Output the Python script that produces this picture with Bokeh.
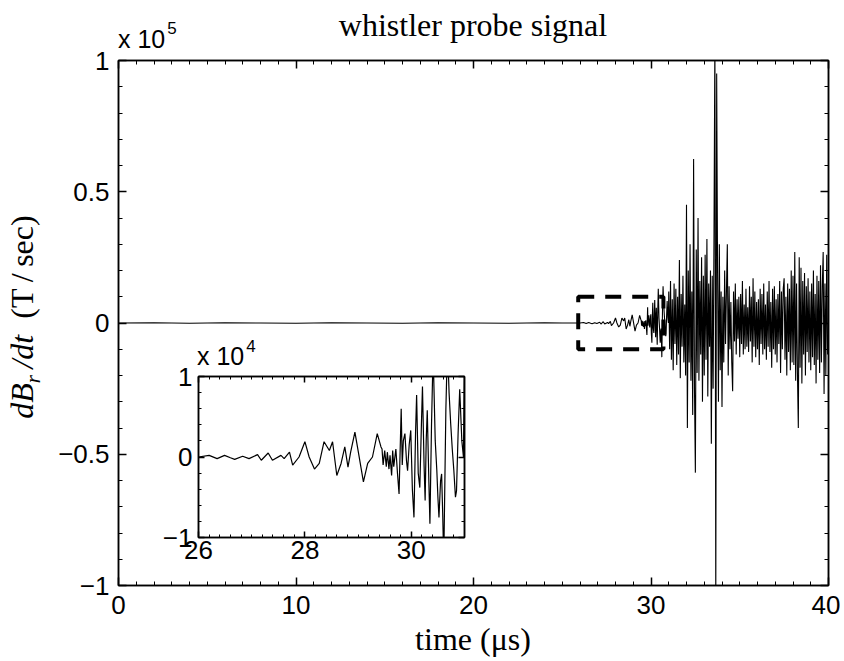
import numpy as np
from bokeh.plotting import figure
from bokeh.models import LinearAxis, FixedTicker, CustomJSTickFormatter, Div
from bokeh.embed import file_html
from bokeh.resources import INLINE

TITLE = "whistler probe signal"
X_LABEL = "time (μs)"
Y_LABEL_HTML = ("<i>dB<sub style='font-size:21px'>r</sub>&thinsp;/dt</i>"
                "&ensp;(T&thinsp;/&thinsp;sec)")

# ---- signal, time in µs, dB_r/dt in units of 1e4 T/sec ----
T_EARLY = [0, 2, 4, 6, 8, 10, 12, 14, 16, 18, 20, 22, 24, 25, 26.0, 26.2, 26.35,
           26.49, 26.6, 26.68, 26.83, 26.95, 27.11, 27.18, 27.31, 27.39, 27.55,
           27.61, 27.71, 27.77, 27.89, 28.0, 28.08, 28.18, 28.27, 28.36, 28.46,
           28.52, 28.6, 28.68, 28.75, 28.81, 28.86, 28.94, 29.0, 29.1, 29.18,
           29.27, 29.36, 29.43, 29.45, 29.47, 29.5, 29.53, 29.55, 29.58, 29.6,
           29.63, 29.65, 29.67, 29.71, 29.74, 29.77, 29.81, 29.83, 29.85, 29.88,
           29.91, 29.93, 29.96, 29.99, 30.02, 30.05, 30.08, 30.1, 30.13, 30.16,
           30.19, 30.21, 30.24, 30.26, 30.28, 30.3, 30.33, 30.35, 30.38, 30.41,
           30.45, 30.48, 30.5, 30.52, 30.55, 30.57, 30.59, 30.61, 30.65, 30.68,
           30.71, 30.74, 30.77, 30.8, 30.83, 30.85, 30.88, 30.91, 30.95, 30.98]
V_EARLY = [0.0, 0.01, -0.01, 0.01, 0.0, -0.01, 0.01, 0.0, -0.01, 0.01, 0.0, -0.01,
           0.01, 0.0, 0.0, 0.02, -0.02, 0.02, -0.01, -0.03, 0.01, -0.02, 0.03,
           -0.04, 0.05, -0.04, 0.02, -0.02, 0.06, -0.10, 0.0, 0.19, 0.0, -0.15,
           -0.08, 0.19, 0.08, 0.19, -0.23, -0.08, 0.125, -0.125, 0.06, 0.31, 0.08,
           -0.31, -0.08, 0.0, 0.29, 0.125, 0.10, -0.10, 0.08, -0.12, 0.06, -0.15,
           0.02, -0.23, 0.08, -0.12, 0.10, -0.20, -0.46, 0.60, -0.10, 0.20, 0.29,
           -0.05, -0.17, 0.15, 0.33, -0.40, -0.75, 0.30, 0.77, -0.20, -0.38, 0.40,
           0.875, -0.10, -0.54, 0.20, 0.58, -0.30, -0.83, 0.40, 1.30, 0.20, -0.17,
           -0.50, -0.75, -0.30, -0.21, -0.70, -1.30, 0.60, 1.40, 0.80, 0.42, 0.10,
           -0.17, -0.50, -0.42, 0.30, 0.84, 0.20, 0.0]
T_LATE_START = 31.0
T_LATE_STEP = 0.05
V_LATE = [
    1.2, -1.0, 1.6, -1.4, 0.9, -1.8, 1.5, -0.8, 1.3, -1.6,
    1.0, -1.2, 2.4, -2.1, 1.1, -0.9, 1.8, -1.5, 0.7, -2.0,
    4.5, -4.0, 2.0, -1.5, 3.0, -2.2, 1.2, -3.5, 6.25, -2.5,
    -5.7, 2.8, -1.9, 4.0, -2.2, 1.6, -1.2, 2.5, -3.0, 1.8,
    -2.0, 2.6, -1.4, 3.2, -2.8, 1.5, -0.9, 2.0, -4.6, 1.8,
    -2.5, 3.5, 11.0, -11.0, 9.5, 2.0, -3.0, 3.0, -1.8, 1.2,
    -3.2, 1.0, -1.5, 2.0, -0.8, 1.2, 3.0, -2.0, 1.4, -1.0,
    0.8, -1.5, -2.6, 1.2, -0.7, 1.5, -1.2, 0.9, -0.6, 1.0,
    -1.3, 1.1, -0.8, 1.6, -1.2, 0.7, -1.0, 1.3, -0.9, 0.6,
    -1.1, 1.4, -0.7, 1.0, -1.5, 1.7, -0.9, 1.2, -1.3, 0.8,
    -1.0, 0.9, -1.6, 1.3, -0.8, 1.1, -1.2, 1.5, -1.0, 0.7,
    -1.4, 1.2, -0.9, 1.6, -1.1, 0.8, -1.7, 1.3, -1.0, 1.4,
    -1.2, 0.9, -1.5, 1.1, -0.8, 1.6, -1.9, 1.2, -1.0, 1.3,
    1.7, -1.4, 1.0, -2.0, 1.5, -1.1, 1.3, -1.8, 2.0, -1.5,
    1.8, -1.6, 2.7, -2.2, 1.5, -1.9, -4.0, 2.5, -1.7, 2.1,
    -2.3, 1.6, -1.2, 1.9, -2.0, 1.4, -1.1, 1.7, -1.5, 1.2,
    -1.8, 1.5, -1.3, 2.0, -1.6, 1.1, -2.3, 1.8, -1.4, 1.6,
    -1.9, 2.2, -1.5, 1.4, 2.7, -2.7, 1.5, -2.0, 2.6, -1.2,
]
T_LATE = [round(T_LATE_START + T_LATE_STEP * i, 2) for i in range(len(V_LATE))]

T = np.array(T_EARLY + T_LATE)
V = np.array(V_EARLY + V_LATE)          # in 1e4 T/sec

# ---- axes ----
MAIN_X_RANGE = (0, 40)
MAIN_Y_RANGE = (-1, 1)                  # in 1e5 T/sec
MAIN_X_TICKS = [0, 10, 20, 30, 40]
MAIN_X_LABELS = ["0", "10", "20", "30", "40"]
MAIN_Y_TICKS = [-1, -0.5, 0, 0.5, 1]
MAIN_Y_LABELS = ["−1", "−0.5", "0", "0.5", "1"]
MAIN_EXP = "5"

INSET_X_RANGE = (26, 31)
INSET_Y_RANGE = (-1, 1)                 # in 1e4 T/sec
INSET_X_TICKS = [26, 28, 30]
INSET_X_LABELS = ["26", "28", "30"]
INSET_Y_TICKS = [-1, 0, 1]
INSET_Y_LABELS = ["−1", "0", "1"]
INSET_EXP = "4"

BOX_T = (25.9, 30.7)

BLANK = CustomJSTickFormatter(code="return ''")


def minor_list(lo, hi, step):
    n = int(round((hi - lo) / step))
    return [round(lo + step * i, 3) for i in range(n + 1)]


def style_axis(ax, ticks, labels, minor, font_size, show_labels=True, tick_len=8):
    ax.ticker = FixedTicker(ticks=ticks, minor_ticks=minor)
    ax.axis_line_color = "black"
    ax.axis_line_width = 1.5
    ax.major_tick_line_color = "black"
    ax.major_tick_line_width = 1.5
    ax.minor_tick_line_color = "black"
    ax.minor_tick_line_width = 1
    ax.major_tick_in = tick_len
    ax.major_tick_out = 0
    ax.minor_tick_in = tick_len // 2
    ax.minor_tick_out = 0
    if show_labels:
        ax.major_label_overrides = dict(zip(ticks, labels))
        ax.major_label_text_font = "Liberation Sans"
        ax.major_label_text_font_size = font_size
        ax.major_label_text_color = "black"
    else:
        ax.formatter = BLANK
        ax.major_label_standoff = 0


def abs_div(html, left, top, width, height, extra):
    styles = {"position": "absolute", "left": f"{left}px", "top": f"{top}px",
              "color": "black", "z-index": "10", "margin": "0", "padding": "0",
              "white-space": "nowrap"}
    styles.update(extra)
    return Div(text=html, width=width, height=height, styles=styles)


def exp_div(text, exp, left, top, size, exp_size, raise_px):
    html = (f"<span>{text}</span><span style='font-size:{exp_size}px; position:relative;"
            f" top:-{raise_px}px; margin-left:2px'>{exp}</span>")
    return abs_div(html, left, top, 90, size + 6,
                   {"font-family": "Liberation Sans, Arial, sans-serif",
                    "font-size": f"{size}px", "line-height": f"{size}px"})


# ---- main figure ----
p = figure(width=840, height=658, x_range=MAIN_X_RANGE, y_range=MAIN_Y_RANGE,
           output_backend="svg", toolbar_location=None,
           min_border_left=118, min_border_right=12, min_border_top=60,
           min_border_bottom=73)
p.grid.visible = False
p.outline_line_color = "black"
p.outline_line_width = 1.5

xa = p.below[0]
ya = p.left[0]
mx_minor = minor_list(0, 40, 1)
my_minor = minor_list(-1, 1, 0.1)
style_axis(xa, MAIN_X_TICKS, MAIN_X_LABELS, mx_minor, "26px")
style_axis(ya, MAIN_Y_TICKS, MAIN_Y_LABELS, my_minor, "26px")
xa.major_label_standoff = 10
ya.major_label_standoff = 9
top_ax = LinearAxis()
right_ax = LinearAxis()
style_axis(top_ax, MAIN_X_TICKS, MAIN_X_LABELS, mx_minor, "26px", show_labels=False)
style_axis(right_ax, MAIN_Y_TICKS, MAIN_Y_LABELS, my_minor, "26px", show_labels=False)
p.add_layout(top_ax, "above")
p.add_layout(right_ax, "right")

p.line(T, V / 10.0, line_color="black", line_width=1.1)
p.quad(left=BOX_T[0], right=BOX_T[1], bottom=INSET_Y_RANGE[0] / 10.0,
       top=INSET_Y_RANGE[1] / 10.0, fill_color=None, line_color="black",
       line_width=4, line_dash="16 11")

# ---- inset figure ----
inset = figure(width=314, height=225, x_range=INSET_X_RANGE, y_range=INSET_Y_RANGE,
               output_backend="svg", toolbar_location=None,
               min_border_left=40, min_border_right=8, min_border_top=30,
               min_border_bottom=34)
inset.grid.visible = False
inset.outline_line_color = "black"
inset.outline_line_width = 1.5
inset.background_fill_color = "white"
inset.border_fill_alpha = 0
ix_minor = minor_list(26, 31, 0.2)
iy_minor = minor_list(-1, 1, 0.2)
style_axis(inset.below[0], INSET_X_TICKS, INSET_X_LABELS, ix_minor, "26px", tick_len=6)
style_axis(inset.left[0], INSET_Y_TICKS, INSET_Y_LABELS, iy_minor, "26px", tick_len=6)
inset.below[0].major_label_standoff = 3
inset.left[0].major_label_standoff = 6
itop = LinearAxis()
iright = LinearAxis()
style_axis(itop, INSET_X_TICKS, INSET_X_LABELS, ix_minor, "26px", show_labels=False, tick_len=6)
style_axis(iright, INSET_Y_TICKS, INSET_Y_LABELS, iy_minor, "26px", show_labels=False, tick_len=6)
inset.add_layout(itop, "above")
inset.add_layout(iright, "right")
inset.line(T, V, line_color="black", line_width=1.2)
inset.styles = {"position": "absolute", "left": "158px", "top": "346px", "z-index": "5"}

# ---- texts outside the frames ----
serif32 = {"font-family": "Liberation Serif, serif", "font-size": "32px",
           "line-height": "32px", "text-align": "center"}
title_div = abs_div(TITLE, 223, 9, 500, 36, serif32)
x_label = abs_div(X_LABEL, 323, 623, 300, 36, serif32)
y_style = dict(serif32)
y_style.update({"transform": "rotate(-90deg)", "line-height": "40px"})
y_label = abs_div(Y_LABEL_HTML, -138, 297, 320, 40, y_style)
exp5 = exp_div("x 10", MAIN_EXP, 118, 27, 25, 17, 14)
exp4 = exp_div("x 10", INSET_EXP, 197, 344, 25, 17, 13)

open("out.html", "w").write(
    file_html([p, inset, title_div, x_label, y_label, exp5, exp4], INLINE))
